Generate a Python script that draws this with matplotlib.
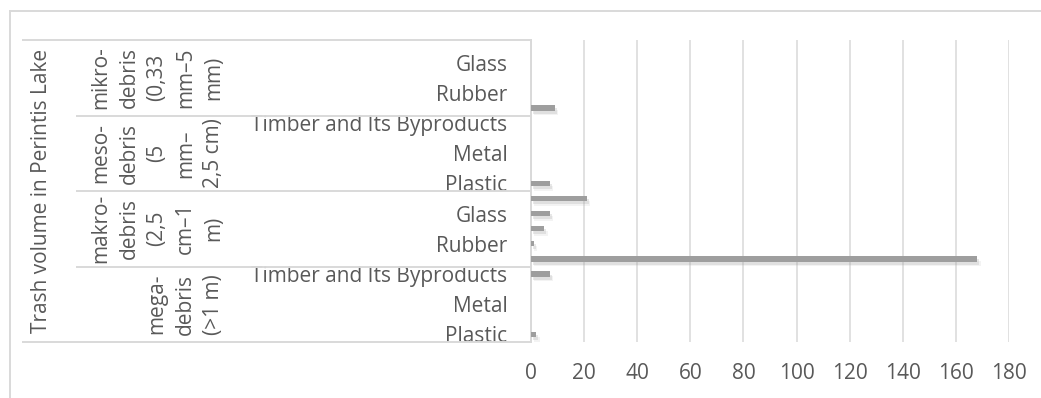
import matplotlib
matplotlib.use("Agg")
import matplotlib.pyplot as plt
from matplotlib.lines import Line2D
import matplotlib.patheffects as pe

# ---- data ---------------------------------------------------------------
materials = ["Plastic", "Metal", "Timber and Its Byproducts", "Rubber", "Glass"]
size_classes = ["mega", "makro", "meso", "mikro"]
class_labels = {
    "mega": "mega-\ndebris\n(>1 m)",
    "makro": "makro-\ndebris\n(2,5\ncm\u20131\nm)",
    "meso": "meso-\ndebris\n(5\nmm\u2013\n2,5 cm)",
    "mikro": "mikro-\ndebris\n(0,33\nmm\u20135\nmm)",
}
mega_values = [2, 0, 0, 0, 7]
makro_values = [168, 1, 5, 7, 21]
meso_values = [7, 0, 0, 0, 0]
mikro_values = [9, 0, 0, 0, 0]
top_label = "Trash volume in Perintis Lake"
x_ticks = [0, 20, 40, 60, 80, 100, 120, 140, 160, 180]

values = mega_values + makro_values + meso_values + mikro_values
n = len(values)

# ---- figure in pixel units ---------------------------------------------
W, H = 1041, 398
fig = plt.figure(figsize=(W / 100, H / 100), dpi=100)
FONT = "Open Sans"
FS = 15
TXT = "#595959"
LINE = "#d9d9d9"


def fx(x):
    return x / W


def fy(y):
    return 1 - y / H


left, right, top, bottom = 531, 1009, 40, 342
ax = fig.add_axes([fx(left), fy(bottom), (right - left) / W, (bottom - top) / H])

pos = list(range(n))
bars = ax.barh(pos, values, height=0.34, color="#9e9e9e", zorder=3)
for b in bars:
    b.set_path_effects([
        pe.SimplePatchShadow(offset=(1.5, -2.2), shadow_rgbFace="#9a9a9a", alpha=0.22),
        pe.SimplePatchShadow(offset=(2.5, -3.4), shadow_rgbFace="#b0b0b0", alpha=0.14),
        pe.Normal(),
    ])

ax.set_xlim(0, 180)
ax.set_ylim(-0.5, n - 0.5)
ax.set_xticks(x_ticks)
ax.set_xticklabels([str(t) for t in x_ticks], fontfamily=FONT, fontsize=FS, color=TXT)
ax.xaxis.grid(True, color=LINE, linewidth=1.1, zorder=0)
ax.set_axisbelow(True)

shown_ticks = list(range(0, n, 2))
shown_names = (materials * 2)[: len(shown_ticks)]
ax.set_yticks(shown_ticks)
ax.set_yticklabels(shown_names, fontfamily=FONT, fontsize=FS, color=TXT)
ax.tick_params(axis="y", length=0, pad=17)
ax.tick_params(axis="x", length=0, pad=15)

for s in ("top", "right", "bottom"):
    ax.spines[s].set_visible(False)
ax.spines["left"].set_color(LINE)
ax.spines["left"].set_linewidth(1.4)

# ---- chart frame --------------------------------------------------------
fig.add_artist(Line2D([fx(10), fx(W + 5)], [fy(11), fy(11)], color=LINE, lw=1.4))
fig.add_artist(Line2D([fx(10), fx(10)], [fy(11), fy(H + 5)], color=LINE, lw=1.4))

# ---- multi-level category frame ----------------------------------------
fig.add_artist(Line2D([fx(23), fx(left)], [fy(top), fy(top)], color=LINE, lw=1.4))
fig.add_artist(Line2D([fx(23), fx(left)], [fy(bottom), fy(bottom)], color=LINE, lw=1.4))

slot = (bottom - top) / n
per_group = len(materials)
for g in range(1, len(size_classes)):
    yb = bottom - g * per_group * slot
    fig.add_artist(Line2D([fx(77), fx(left)], [fy(yb), fy(yb)], color=LINE, lw=1.4))

for g, key in enumerate(size_classes):
    yc = bottom - (g + 0.5) * per_group * slot
    fig.text(fx(224), fy(yc), class_labels[key], rotation=90, ha="right", va="center",
             multialignment="center", fontfamily=FONT, fontsize=FS, color=TXT,
             linespacing=1.45)

fig.text(fx(42), fy((top + bottom) / 2), top_label, rotation=90, ha="center", va="center",
         fontfamily=FONT, fontsize=FS, color=TXT)

fig.savefig("out.png", dpi=100, facecolor="white")
